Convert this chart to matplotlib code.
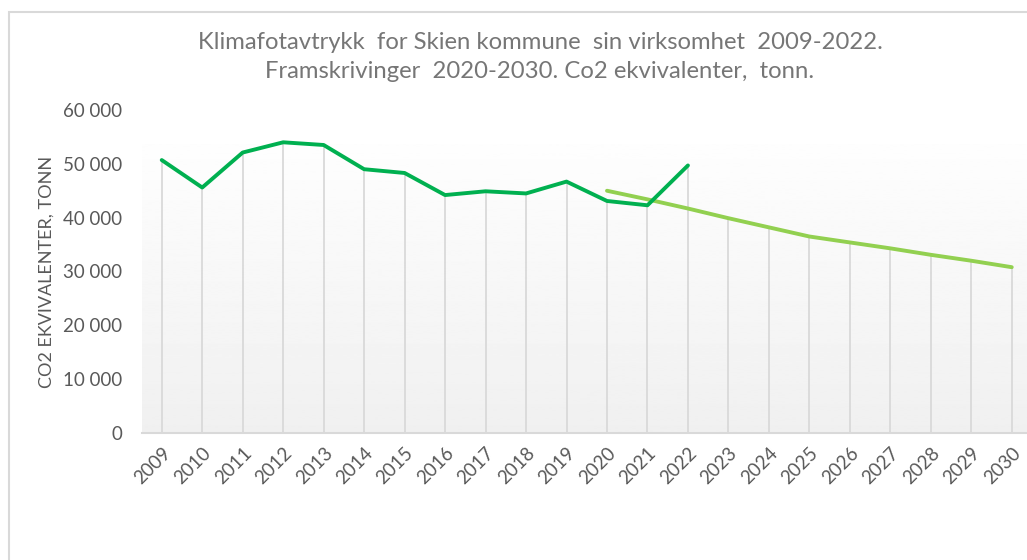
import numpy as np
import matplotlib
matplotlib.use("Agg")
import matplotlib.pyplot as plt
from matplotlib.patches import Rectangle

# -----------------------------
# Data
# -----------------------------
years = [str(y) for y in range(2009, 2031)]

# Historical footprint 2009-2022 (tonn CO2-ekv.)
hist_years = [str(y) for y in range(2009, 2023)]
hist_values = [50700, 45600, 52100, 54000, 53500, 49000, 48300,
               44200, 44900, 44500, 46700, 43100, 42300, 49700]

# Projection 2020-2030
proj_years = [str(y) for y in range(2020, 2031)]
proj_values = [45000, 43400, 41700, 39900, 38200, 36500,
               35400, 34300, 33100, 32000, 30800]

y_ticks = [0, 10000, 20000, 30000, 40000, 50000, 60000]
y_tick_labels = ["0", "10 000", "20 000", "30 000", "40 000", "50 000", "60 000"]

title = ("Klimafotavtrykk  for Skien kommune  sin virksomhet  2009-2022.\n"
         "Framskrivinger  2020-2030. Co2 ekvivalenter,  tonn.")
y_label = "CO2 EKVIVALENTER, TONN"

# -----------------------------
# Styling
# -----------------------------
text_color = "#595959"
grid_color = "#d9d9d9"
dark_green = "#00b050"
light_green = "#92d050"
plt.rcParams["font.family"] = ["Lato", "DejaVu Sans"]

fig = plt.figure(figsize=(10.27, 5.6), dpi=100)

# chart border (Excel chart area)
fig.patches.append(Rectangle((9 / 1027, -0.1), 1.2, (560 - 12) / 560 + 0.1,
                             transform=fig.transFigure, fill=False,
                             edgecolor=grid_color, linewidth=1.5))

ax = fig.add_axes([141.5 / 1027, (560 - 433) / 560,
                   (1032 - 141.5) / 1027, (433 - 110) / 560])

idx = {y: i for i, y in enumerate(years)}
hx = [idx[y] for y in hist_years]
px = [idx[y] for y in proj_years]

ax.set_xlim(-0.5, len(years) - 0.5)
ax.set_ylim(0, 60000)

# gradient plot area fill
grad = np.linspace(0.94, 0.995, 256).reshape(-1, 1)
ax.imshow(grad, extent=(-0.5, len(years) - 0.5, 0, 53500), origin="lower",
          cmap="gray", vmin=0, vmax=1, aspect="auto", zorder=0)

# drop lines
drop_top = {}
for x, v in zip(hx, hist_values):
    drop_top[x] = v
for x, v in zip(px, proj_values):
    drop_top.setdefault(x, v)
for x, v in drop_top.items():
    ax.plot([x, x], [0, v], color=grid_color, linewidth=1.3, zorder=1)

ax.plot(hx, hist_values, color=dark_green, linewidth=2.8,
        solid_capstyle="round", solid_joinstyle="round", zorder=3)
ax.plot(px, proj_values, color=light_green, linewidth=2.8,
        solid_capstyle="round", solid_joinstyle="round", zorder=2)

# axes
for side in ["top", "right", "left"]:
    ax.spines[side].set_visible(False)
ax.spines["bottom"].set_color(grid_color)
ax.spines["bottom"].set_linewidth(1.5)
ax.spines["bottom"].set_zorder(4)

ax.set_yticks(y_ticks)
ax.set_yticklabels(y_tick_labels)
ax.set_xticks(range(len(years)))
ax.set_xticklabels(years, rotation=45, ha="right", rotation_mode="anchor")
ax.tick_params(axis="both", length=0, colors=text_color, labelsize=13.5)
ax.tick_params(axis="y", pad=14)
ax.tick_params(axis="x", pad=8)

ax.set_ylabel(y_label, color=text_color, fontsize=13, labelpad=6)

fig.text(540 / 1027, 1 - 57 / 560, title, ha="center", va="center",
         color="#767676", fontsize=17.2, linespacing=1.5)

fig.savefig("out.png", dpi=100)
